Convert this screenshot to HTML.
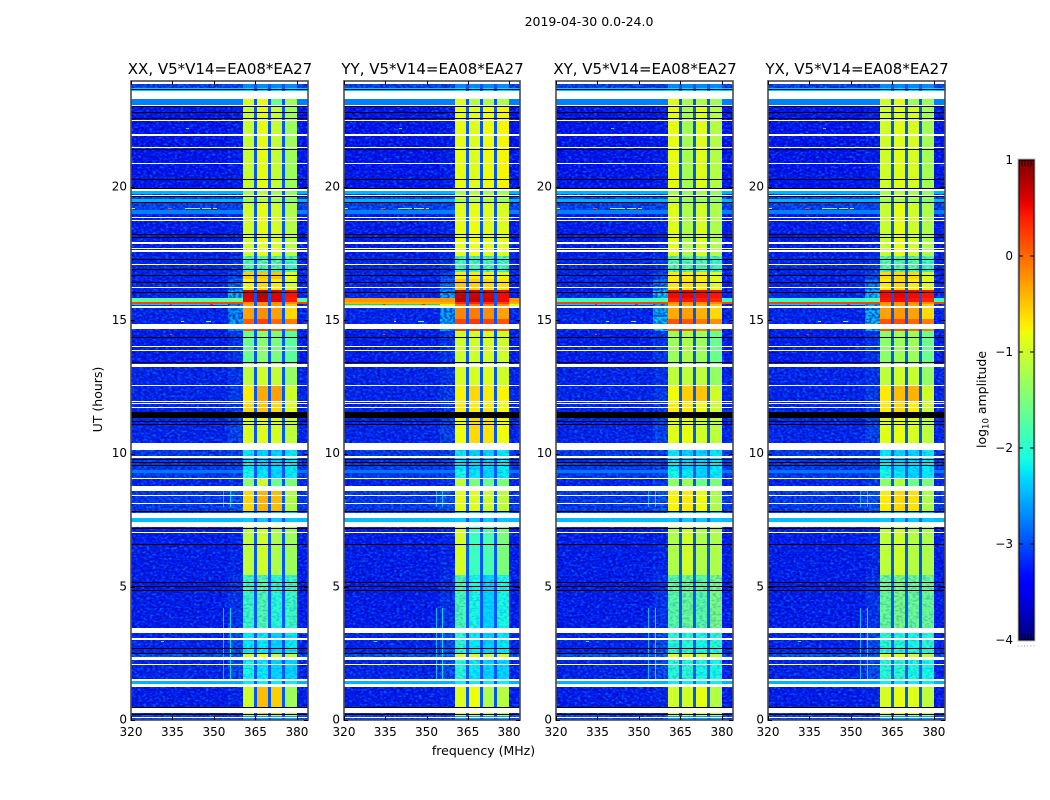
<!DOCTYPE html>
<html lang="en">
<head>
<meta charset="utf-8">
<title>2019-04-30 0.0-24.0</title>
<style>
html,body{margin:0;padding:0;background:#fff;}
#figure{display:block;width:1050px;height:800px;font-family:"DejaVu Sans","Liberation Sans",sans-serif;fill:#000;}
</style>
</head>
<body>
<svg id="figure" xmlns="http://www.w3.org/2000/svg" width="1050" height="800" viewBox="0 0 1050 800">
  <defs>
    <!-- Non-data speckle textures for the noise floor -->
    <filter id="speckle-light" x="0" y="0" width="1" height="1" color-interpolation-filters="sRGB">
      <feTurbulence type="fractalNoise" baseFrequency="0.32 0.48" numOctaves="1" seed="7"/>
      <feColorMatrix type="matrix" values="0 0 0 0 0  0 0 0 0 0.5  0 0 0 0 1  3.6 0 0 0 -1.6"/>
    </filter>
    <filter id="speckle-dark" x="0" y="0" width="1" height="1" color-interpolation-filters="sRGB">
      <feTurbulence type="fractalNoise" baseFrequency="0.36 0.46" numOctaves="1" seed="23"/>
      <feColorMatrix type="matrix" values="0 0 0 0 0  0 0 0 0 0  0 0 0 0 0.6  3.4 0 0 0 -1.3"/>
    </filter>
    <filter id="speckle-band" x="0" y="0" width="1" height="1" color-interpolation-filters="sRGB">
      <feTurbulence type="fractalNoise" baseFrequency="0.3 0.5" numOctaves="1" seed="41"/>
      <feColorMatrix type="matrix" values="0 0 0 0 0  0 0 0 0 0.35  0 0 0 0 1  3.4 0 0 0 -1.4"/>
    </filter>
    <linearGradient id="colorbar-gradient" x1="0" y1="1" x2="0" y2="0"></linearGradient>
  </defs>
  <rect x="0" y="0" width="1050" height="800" fill="#fff"/>
  <text x="589" y="26" font-size="12.5" text-anchor="middle">2019-04-30 0.0-24.0</text>
  <text x="0" y="0" transform="translate(102,399.5) rotate(-90)" font-size="12.5" text-anchor="middle">UT (hours)</text>
  <text x="483.5" y="755" font-size="12.5" text-anchor="middle">frequency (MHz)</text>
  <text x="0" y="0" transform="translate(986,399.5) rotate(-90)" font-size="12.5" text-anchor="middle">log<tspan font-size="8.5" dy="2.5">10</tspan><tspan dy="-2.5"> amplitude</tspan></text>
  <g id="panels"></g>
  <g id="colorbar"></g>
</svg>
<script>
// ---- chart data ----
const panelTitles = ["XX, V5*V14=EA08*EA27", "YY, V5*V14=EA08*EA27", "XY, V5*V14=EA08*EA27", "YX, V5*V14=EA08*EA27"];
const freqTicks = [320, 335, 350, 365, 380];
const utTicks = [0, 5, 10, 15, 20];
const colorbarTicks = [1, 0, -1, -2, -3, -4];
const colorbarMinor = [0.2, 0.4, 0.6, 0.8];

// frequency column edges (MHz): noise, shoulder, band, gap, band, gap, band, gap, band, noise
const freqEdges = [320, 355, 360.5, 364.5, 365.6, 369.6, 370.7, 374.6, 375.7, 380, 384];
// which value of an amplitude row each column uses (-1 = gap channel)
const columnSource = [0, 1, 2, -1, 3, -1, 4, -1, 5, 0];
const gapAmplitude = -2.95;

// UT row edges (hours)
const utEdges = [0, .15, .23, 1.35, 1.5, 2.36, 2.46, 3.45, 5.44, 7.24, 7.6, 7.85, 8.78, 9.08, 9.27, 9.38, 10.28, 11.3, 11.55, 11.97, 12.57, 13.25, 14.6, 15.05, 15.5, 15.62, 15.7, 15.84, 16.15, 16.55, 16.8, 17.4, 19, 19.15, 19.25, 19.43, 19.55, 19.74, 19.85, 23.08, 23.3, 23.6, 23.72, 24];

// log10 amplitude per UT row: [noise, shoulder, band1, band2, band3, band4]
const ampXX = [
[-3,-3,-2.6,-2.6,-2.6,-2.6],[-2.9,-2.9,-1,-.9,-1,-1.1],[-3.25,-3.2,-1,-.45,-.55,-1.3],[-2.5,-2.5,-2.2,-2.2,-2.2,-2.2],
[-3.2,-2.95,-2.1,-2.2,-2.3,-2.3],[-2.9,-2.8,-.9,-.8,-1,-1.1],[-3.2,-2.95,-2.2,-2.2,-2.3,-2.2],[-3.25,-3.1,-1.9,-1.75,-2,-1.9],
[-3.25,-3.2,-1.1,-1,-1.2,-1.3],[-2.45,-2.45,-2.4,-2.4,-2.4,-2.4],[-3,-3,-2.5,-2.5,-2.5,-2.5],[-3.05,-2.9,-.6,-.4,-.45,-1.2],
[-3.2,-3.1,-1.4,-1,-1.6,-1.5],[-3.05,-3,-2.1,-2.2,-2.3,-2.2],[-2.8,-2.8,-2.1,-2.2,-2.3,-2.2],[-3.05,-3,-2.2,-2.3,-2.3,-2.2],
[-3.2,-3,-.95,-.9,-.95,-1.1],[-3.2,-3,-.95,-.9,-.95,-1.1],[-3.2,-3.05,-.6,-.5,-.6,-.9],[-3.2,-3.05,-.7,-.35,-.3,-1],
[-3.2,-3.1,-1.1,-1,-1.05,-1.35],[-3.25,-3.1,-1.6,-1.4,-1.5,-1.7],[-3.2,-2.5,.05,.2,0,-.1],[-3.2,-2.6,-.3,-.2,-.3,-.6],
[-3.2,-2.7,-.3,-.2,-.25,-.5],[.2,.2,-.2,-.2,-.2,-.2],[-1.7,-1.6,.55,.7,.6,.4],[-3.2,-2.4,.6,.75,.6,.45],
[-3.2,-2.8,-.75,-.6,-.7,-.95],[-3.2,-3,-.55,-.5,-.5,-.85],[-3.2,-3.1,-1.75,-1.7,-1.7,-1.85],[-3.25,-3.2,-1,-.85,-.95,-1.15],
[-2.75,-2.75,-1,-.85,-1,-1.2],[-3,-3,-1,-.85,-1,-1.2],[-3,-3,-1,-.85,-1,-1.2],[-2.5,-2.5,-1.4,-1.3,-1.4,-1.5],
[-2.9,-2.9,-1,-.9,-1,-1.2],[-2.5,-2.5,-1.3,-1.2,-1.3,-1.4],[-3.3,-3.25,-1.05,-.85,-1.05,-1.3],[-2.75,-2.75,-.95,-.85,-1.6,-1.3],
[-2.4,-2.4,-2.3,-2.3,-2.3,-2.3],[-2.4,-2.4,-2.3,-2.3,-2.3,-2.3],[-3,-3,-2.7,-2.7,-2.7,-2.7]
];
const ampYY = [
[-3,-3,-2.6,-2.6,-2.6,-2.6],[-2.9,-2.9,-1,-.9,-1,-1.1],[-3.25,-3.2,-.9,-.8,-1.2,-1.15],[-2.5,-2.5,-2.2,-2.2,-2.2,-2.2],
[-3.2,-2.95,-2,-2.2,-2.3,-2.3],[-2.9,-2.8,-.9,-.9,-1,-1],[-3.2,-2.95,-2,-2.2,-2.3,-2.2],[-3.25,-3.1,-1.8,-2.1,-2.3,-2.1],
[-3.25,-3.2,-.95,-1.9,-1.8,-1.5],[-2.45,-2.45,-2.4,-2.4,-2.4,-2.4],[-3,-3,-2.5,-2.5,-2.5,-2.5],[-3.05,-2.9,-.85,-.9,-1,-1.1],
[-3.2,-3.1,-1.1,-1.5,-1.6,-1.5],[-3.05,-3,-2.1,-2.2,-2.3,-2.2],[-2.8,-2.8,-2.1,-2.2,-2.3,-2.2],[-3.05,-3,-2.2,-2.3,-2.3,-2.2],
[-3.2,-3,-.8,-.6,-.65,-.8],[-3.2,-3,-.8,-.6,-.65,-.8],[-3.2,-3.05,-.7,-.7,-.7,-.8],[-3.2,-3.05,-.75,-.6,-.7,-.75],
[-3.2,-3.1,-.95,-.95,-.9,-1],[-3.25,-3.1,-1,-1,-.95,-1],[-3.2,-2.4,.2,.25,.2,.1],[-3.2,-2.5,-.15,-.1,-.2,-.3],
[-1.0,-.9,-.1,-.1,-.1,-.2],[-.4,-.4,.3,.35,.3,.2],[-.25,-.25,.75,.7,.65,.5],[-3.2,-2.5,.7,.65,.6,.5],
[-3.2,-2.8,-.5,-.55,-.6,-.65],[-3.2,-3,-.7,-.7,-.75,-.85],[-3.2,-3.1,-1.8,-1.8,-1.8,-1.85],[-3.25,-3.2,-.85,-.8,-.9,-.9],
[-2.75,-2.75,-.9,-.85,-.9,-.95],[-3,-3,-.9,-.85,-.9,-.95],[-3,-3,-.9,-.85,-.9,-.95],[-2.5,-2.5,-1.3,-1.3,-1.3,-1.4],
[-2.9,-2.9,-.9,-.9,-.9,-1],[-2.5,-2.5,-1.3,-1.2,-1.3,-1.3],[-3.3,-3.25,-.85,-.9,-.8,-.75],[-2.75,-2.75,-.9,-1.2,-1.2,-1.2],
[-2.4,-2.4,-2.3,-2.3,-2.3,-2.3],[-2.4,-2.4,-2.3,-2.3,-2.3,-2.3],[-3,-3,-2.7,-2.7,-2.7,-2.7]
];
const ampXY = [
[-3,-3,-2.6,-2.6,-2.6,-2.6],[-2.9,-2.9,-1,-.9,-1,-1.1],[-3.25,-3.2,-1,-1,-.85,-1.15],[-2.5,-2.5,-2.2,-2.2,-2.2,-2.2],
[-3.2,-2.95,-2,-2,-2.1,-2.1],[-2.9,-2.8,-.9,-.9,-1,-1.1],[-3.2,-2.95,-2,-2,-2.1,-2],[-3.25,-3.1,-1.7,-1.6,-1.7,-1.5],
[-3.25,-3.2,-1.2,-1,-1.2,-1.2],[-2.45,-2.45,-2.4,-2.4,-2.4,-2.4],[-3,-3,-2.5,-2.5,-2.5,-2.5],[-3.05,-2.9,-.75,-.7,-.8,-1.2],
[-3.2,-3.1,-1.4,-1.3,-1.6,-1.5],[-3.05,-3,-2.1,-2.2,-2.3,-2.2],[-2.8,-2.8,-2.1,-2.2,-2.3,-2.2],[-3.05,-3,-2.2,-2.3,-2.3,-2.2],
[-3.2,-3,-.9,-.85,-1,-1.1],[-3.2,-3,-.9,-.85,-1,-1.1],[-3.2,-3.05,-.7,-.7,-.8,-1],[-3.2,-3.05,-.8,-.55,-.5,-1],
[-3.2,-3.1,-1.1,-1.1,-1.1,-1.35],[-3.25,-3.1,-1.3,-1.2,-1.3,-1.6],[-3.2,-2.3,.1,.1,-.1,-.2],[-3.2,-2.4,-.35,-.3,-.4,-.6],
[-3.2,-2.5,-.35,-.3,-.35,-.5],[.2,.2,-.2,-.2,-.2,-.2],[-1.9,-1.8,.4,.45,.4,.35],[-3.2,-2.3,.5,.55,.5,.45],
[-3.2,-2.7,-.7,-.65,-.7,-.9],[-3.2,-3,-.7,-.7,-.7,-.9],[-3.2,-3.1,-1.7,-1.7,-1.7,-1.85],[-3.25,-3.2,-.9,-1.2,-.95,-1.2],
[-2.75,-2.75,-.9,-1.2,-1,-1.2],[-3,-3,-.9,-1.2,-1,-1.2],[-3,-3,-.9,-1.2,-1,-1.2],[-2.5,-2.5,-1.3,-1.4,-1.4,-1.5],
[-2.9,-2.9,-.9,-1.2,-1,-1.2],[-2.5,-2.5,-1.3,-1.4,-1.3,-1.4],[-3.3,-3.25,-.85,-1.25,-.9,-1.15],[-2.75,-2.75,-.9,-1.25,-1.2,-1.3],
[-2.4,-2.4,-2.3,-2.3,-2.3,-2.3],[-2.4,-2.4,-2.3,-2.3,-2.3,-2.3],[-3,-3,-2.7,-2.7,-2.7,-2.7]
];
const ampYX = [
[-3,-3,-2.6,-2.6,-2.6,-2.6],[-2.9,-2.9,-1,-.9,-1,-1.1],[-3.25,-3.2,-.95,-.85,-.9,-1.1],[-2.5,-2.5,-2.2,-2.2,-2.2,-2.2],
[-3.2,-2.95,-2,-2,-2.1,-2.1],[-2.9,-2.8,-.9,-.85,-1,-1.1],[-3.2,-2.95,-2,-2,-2.1,-2],[-3.25,-3.1,-1.6,-1.5,-1.6,-1.6],
[-3.25,-3.2,-1.1,-1,-1.15,-1.2],[-2.45,-2.45,-2.4,-2.4,-2.4,-2.4],[-3,-3,-2.5,-2.5,-2.5,-2.5],[-3.05,-2.9,-.7,-.6,-.65,-1.2],
[-3.2,-3.1,-1.4,-1.2,-1.6,-1.5],[-3.05,-3,-2.1,-2.2,-2.3,-2.2],[-2.8,-2.8,-2.1,-2.2,-2.3,-2.2],[-3.05,-3,-2.2,-2.3,-2.3,-2.2],
[-3.2,-3,-.9,-.85,-.95,-1.1],[-3.2,-3,-.9,-.85,-.95,-1.1],[-3.2,-3.05,-.7,-.6,-.7,-1],[-3.2,-3.05,-.7,-.45,-.4,-1],
[-3.2,-3.1,-1.1,-1,-1.05,-1.35],[-3.25,-3.1,-1.4,-1.3,-1.3,-1.6],[-3.2,-2.3,.1,.15,0,-.1],[-3.2,-2.4,-.3,-.25,-.3,-.6],
[-3.2,-2.5,-.3,-.25,-.3,-.5],[.2,.2,-.2,-.2,-.2,-.2],[-1.9,-1.8,.45,.5,.45,.35],[-3.2,-2.3,.5,.55,.5,.45],
[-3.2,-2.7,-.7,-.6,-.7,-.9],[-3.2,-3,-.6,-.6,-.6,-.9],[-3.2,-3.1,-1.7,-1.7,-1.7,-1.85],[-3.25,-3.2,-1.05,-.85,-1,-1.2],
[-2.75,-2.75,-1.05,-.85,-1,-1.2],[-3,-3,-1.05,-.85,-1,-1.2],[-3,-3,-1.05,-.85,-1,-1.2],[-2.5,-2.5,-1.4,-1.3,-1.4,-1.5],
[-2.9,-2.9,-1,-.9,-1,-1.2],[-2.5,-2.5,-1.3,-1.2,-1.3,-1.4],[-3.3,-3.25,-1,-.9,-.95,-1.25],[-2.75,-2.75,-1,-.9,-1.3,-1.3],
[-2.4,-2.4,-2.3,-2.3,-2.3,-2.3],[-2.4,-2.4,-2.3,-2.3,-2.3,-2.3],[-3,-3,-2.7,-2.7,-2.7,-2.7]
];
const panelAmplitudes = [ampXX, ampYY, ampXY, ampYX];

// UT ranges where the bands look mottled rather than smooth
const mottledRanges = [[1.5,2.36],[2.46,5.44],[9.08,10.28],[16.8,17.4]];

// flagged (blank) UT ranges [start, end] in hours
const blankRanges = [[.1,.13],[.26,.45],[1.24,1.35],[1.48,1.52],[2.08,2.12],[2.25,2.36],[3.02,3.06],[3.26,3.45],[7,7.04],[7.24,7.43],[7.58,7.77],[8.12,8.16],[8.42,8.46],[8.59,8.78],[9.06,9.1],[9.85,9.89],[10.13,10.39],[11.72,11.76],[11.87,11.91],[11.95,11.99],[12.55,12.59],[13.25,13.36],[13.86,13.9],[14,14.04],[14.67,14.86],[15.48,15.52],[16.2,16.26],[17.09,17.13],[17.58,17.62],[17.69,17.73],[17.88,17.92],[18.74,18.78],[18.82,18.86],[19.87,19.91],[19.65,19.69],[20.88,20.92],[21.48,21.52],[21.91,21.99],[22.49,22.53],[23,23.08],[23.3,23.6],[23.87,24]];
// dead (zero-amplitude) UT ranges [start, end] in hours
const deadRanges = [[.47,.5],[.21,.24],[2.49,2.52],[2.68,2.71],[4.86,4.89],[5.01,5.04],[5.16,5.19],[6.58,6.61],[7.16,7.22],[7.82,7.85],[9.55,9.58],[9.66,9.69],[9.77,9.8],[11.09,11.12],[11.2,11.23],[11.33,11.56],[13.41,13.44],[14.35,14.38],[16.04,16.07],[16.41,16.44],[16.68,16.71],[16.9,16.93],[17.28,17.31],[18.1,18.13],[18.22,18.25],[19.42,19.45],[19.64,19.67],[19.94,19.97],[20.28,20.31],[21.41,21.44],[22.57,22.6],[22.79,22.82],[23,23.03],[23.64,23.67]];

// horizontal RFI: [UT, start MHz, end MHz, log10 amplitude]
const rfiHorizontal = [[19.2,320,321.4,-.9],[19.2,333.4,334.8,.1],[19.2,339.5,344.9,-1.3],[19.2,345.6,351,-1.2],[19.2,349,349.8,.5],[15.58,320,355,-2.4],[15.58,334,335,.4],[15.58,348.5,349.5,.4],[14.95,338,339,-1.6],[14.95,347,349,-1.6],[14.45,334,335,.2],[22.2,340,341,-2.2],[2.95,331,332,-2.2]];
// vertical RFI: [MHz, start UT, end UT, log10 amplitude]
const rfiVertical = [[353.3,1.5,4.2,-2.45],[355.7,1.5,4.2,-2.3],[353.3,8,8.8,-2.5],[355.7,8,8.8,-2.4]];

// ---- layout ----
const svgNS = "http://www.w3.org/2000/svg";
const panelLefts = [131, 344, 556, 768];
const panelRights = [308, 520, 733, 945];
const plotTop = 81, plotBottom = 720;
const freqMin = 320, freqMax = 384, utMin = 0, utMax = 23.98;
const colorbarTop = 160, colorbarBottom = 640, colorbarLeft = 1019, colorbarRight = 1034;
const ampMin = -4, ampMax = 1;
const noisyThreshold = -2.85;

// ---- scales ----
function xScale(freq, p) {
  return panelLefts[p] + (freq - freqMin) / (freqMax - freqMin) * (panelRights[p] - panelLefts[p]);
}
function yScale(ut) {
  return plotBottom - (ut - utMin) / (utMax - utMin) * (plotBottom - plotTop);
}
function ampScale(a) {
  return colorbarBottom - (a - ampMin) / (ampMax - ampMin) * (colorbarBottom - colorbarTop);
}
function clamp01(v) { return Math.max(0, Math.min(1, v)); }
function jet(a) {
  const t = clamp01((a - ampMin) / (ampMax - ampMin));
  let r, g, b;
  r = t < .35 ? 0 : t < .66 ? (t - .35) / .31 : t < .89 ? 1 : 1 - (t - .89) / .11 * .5;
  g = t < .125 ? 0 : t < .375 ? (t - .125) / .25 : t < .64 ? 1 : t < .91 ? 1 - (t - .64) / .27 : 0;
  b = t < .11 ? .5 + t / .11 * .5 : t < .34 ? 1 : t < .65 ? 1 - (t - .34) / .31 : 0;
  return "rgb(" + Math.round(r * 255) + "," + Math.round(g * 255) + "," + Math.round(b * 255) + ")";
}
function make(tag, parent, attrs) {
  const el = document.createElementNS(svgNS, tag);
  for (const k in attrs) el.setAttribute(k, attrs[k]);
  parent.appendChild(el);
  return el;
}
function bandRect(parent, p, f0, f1, u0, u1, fill) {
  const x0 = Math.round(xScale(f0, p)), x1 = Math.round(xScale(f1, p));
  const y0 = Math.round(yScale(u1)), y1 = Math.round(yScale(u0));
  return make("rect", parent, {x: x0, y: y0, width: Math.max(1, x1 - x0), height: Math.max(1, y1 - y0), fill: fill, "shape-rendering": "crispEdges"});
}
// merge consecutive low-amplitude rows so the noise texture skips bright, smooth rows
function noisySpans(rows) {
  const spans = [];
  let start = null;
  rows.forEach(function (row, r) {
    if (row[0] <= noisyThreshold) {
      if (start === null) start = utEdges[r];
    } else if (start !== null) {
      spans.push([start, utEdges[r]]);
      start = null;
    }
  });
  if (start !== null) spans.push([start, utEdges[rows.length]]);
  return spans;
}

// ---- panels ----
const panelsRoot = document.getElementById("panels");
panelTitles.forEach(function (title, p) {
  const g = make("g", panelsRoot, {});
  
  

  const titleEl = make("text", g, {x: (panelLefts[p] + panelRights[p]) / 2 + 0.5, y: 74, "font-size": 15, "text-anchor": "middle"});
  
  
  titleEl.textContent = title;

  // heatmap cells
  const heat = make("g", g, {});
  
  
  const rows = panelAmplitudes[p];
  rows.forEach(function (row, r) {
    columnSource.forEach(function (src, c) {
      const value = src < 0 ? gapAmplitude : row[src];
      const cell = bandRect(heat, p, freqEdges[c], freqEdges[c + 1], utEdges[r], utEdges[r + 1], jet(value));
      
      
    });
  });

  // speckle texture over low-amplitude noise rows (decorative)
  noisySpans(rows).forEach(function (uts) {
    [[freqEdges[0], freqEdges[2]], [freqEdges[9], freqEdges[10]]].forEach(function (span) {
      ["speckle-light", "speckle-dark"].forEach(function (filterId) {
        const tex = bandRect(g, p, span[0], span[1], uts[0], uts[1], "#000");
        tex.setAttribute("filter", "url(#" + filterId + ")");
        tex.setAttribute("opacity", filterId === "speckle-light" ? .7 : .6);
        
        
      });
    });
  });

  // mottling over the bands in the weak periods (decorative)
  mottledRanges.forEach(function (uts) {
    const tex = bandRect(g, p, freqEdges[2], freqEdges[9], uts[0], uts[1], "#000");
    tex.setAttribute("filter", "url(#speckle-band)");
    tex.setAttribute("opacity", .3);
    
    
  });

  // RFI marks
  rfiHorizontal.forEach(function (d) {
    const m = bandRect(g, p, d[1], d[2], d[0] - .02, d[0] + .02, jet(d[3]));
    
    
  });
  rfiVertical.forEach(function (d) {
    const m = bandRect(g, p, d[0], d[0] + .25, d[1], d[2], jet(d[3]));
    
    
  });

  // flagged rows
  blankRanges.forEach(function (d) {
    const m = bandRect(g, p, freqMin, freqMax, d[0], d[1], "#fff");
    
    
  });
  deadRanges.forEach(function (d) {
    const m = bandRect(g, p, freqMin, freqMax, d[0], d[1], "#000");
    
    
  });

  // frame
  const frame = make("rect", g, {x: panelLefts[p], y: plotTop, width: panelRights[p] - panelLefts[p], height: plotBottom - plotTop, fill: "none", stroke: "#4a4a4a", "stroke-width": 1.6});
  
  

  // x ticks
  freqTicks.forEach(function (f) {
    const x = Math.round(xScale(f, p)) + .5;
    [[plotBottom, plotBottom - 4], [plotTop, plotTop + 4]].forEach(function (pair) {
      const t = make("line", g, {x1: x, x2: x, y1: pair[0], y2: pair[1], stroke: "#000", "stroke-width": 1});
      
      
    });
    const label = make("text", g, {x: xScale(f, p), y: 736, "font-size": 12, "text-anchor": "middle"});
    
    
    label.textContent = String(f);
  });

  // y ticks
  utTicks.forEach(function (u) {
    const y = Math.round(yScale(u)) + .5;
    [[panelLefts[p], panelLefts[p] + 4], [panelRights[p], panelRights[p] - 4]].forEach(function (pair) {
      const t = make("line", g, {x1: pair[0], x2: pair[1], y1: y, y2: y, stroke: "#000", "stroke-width": 1});
      
      
    });
    const label = make("text", g, {x: panelLefts[p] - 4, y: yScale(u) + 3.5, "font-size": 12, "text-anchor": "end"});
    
    
    label.textContent = String(u);
  });
});

// ---- colorbar ----
const cb = document.getElementById("colorbar");
const gradient = document.getElementById("colorbar-gradient");
for (let i = 0; i <= 50; i++) {
  const a = ampMin + (ampMax - ampMin) * i / 50;
  const stop = make("stop", gradient, {offset: i / 50, "stop-color": jet(a)});
  
  
}
const halo = make("rect", cb, {x: colorbarLeft - .5, y: colorbarTop - .5, width: colorbarRight - colorbarLeft + 1, height: colorbarBottom - colorbarTop + 1, fill: "none", stroke: "#bbb", "stroke-width": 2});


const ramp = make("rect", cb, {x: colorbarLeft, y: colorbarTop, width: colorbarRight - colorbarLeft, height: colorbarBottom - colorbarTop, fill: "url(#colorbar-gradient)", stroke: "#000", "stroke-width": 1});



colorbarTicks.forEach(function (v) {
  const y = ampScale(v);
  [[colorbarLeft, colorbarLeft + 4], [colorbarRight, colorbarRight - 4]].forEach(function (pair) {
    const t = make("line", cb, {x1: pair[0], x2: pair[1], y1: y, y2: y, stroke: "#000", "stroke-width": 1});
    
    
  });
  const label = make("text", cb, {x: colorbarLeft - 6, y: y + 4, "font-size": 12, "text-anchor": "end"});
  
  
  label.textContent = String(v).replace("-", "\u2212");
});

// minor ticks squeezed at the ends of the colorbar
colorbarMinor.forEach(function (m) {
  const x = colorbarLeft + m * (colorbarRight - colorbarLeft);
  [[colorbarTop, colorbarTop + 6], [colorbarBottom, colorbarBottom - 6]].forEach(function (pair) {
    const t = make("line", cb, {x1: x, x2: x, y1: pair[0], y2: pair[1], stroke: "#000", "stroke-width": 1, opacity: .75});
    
    
  });
});
const dots = make("line", cb, {x1: colorbarLeft - 1.5, x2: colorbarRight + 1.5, y1: 646, y2: 646, stroke: "#999", "stroke-width": 1, "stroke-dasharray": "1 2.2"});


</script>
</body>
</html>
